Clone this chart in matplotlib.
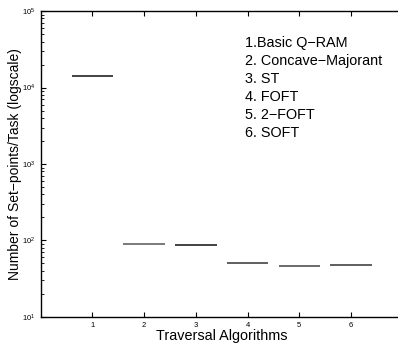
import matplotlib
matplotlib.use("Agg")
import matplotlib.pyplot as plt
from matplotlib.ticker import LogLocator, NullFormatter

plt.rcParams["font.family"] = ["Liberation Sans", "DejaVu Sans"]
plt.rcParams["mathtext.fontset"] = "custom"
plt.rcParams["mathtext.rm"] = "Liberation Sans"

algorithms = [1, 2, 3, 4, 5, 6]
setpoints = [14000, 91, 88, 51, 47, 48]
line_colors = ["#111111", "#555555", "#111111", "#333333", "#444444", "#333333"]
legend_lines = ["1.Basic Q\u2212RAM", "2. Concave\u2212Majorant", "3. ST",
                "4. FOFT", "5. 2\u2212FOFT", "6. SOFT"]

fig = plt.figure(figsize=(3.98, 3.46), dpi=100)
ax = fig.add_axes([0.102, 0.084, 0.91, 0.884])

for x, v, c in zip(algorithms, setpoints, line_colors):
    ax.hlines(v, x - 0.4, x + 0.4, colors=c, linewidth=1.1)

ax.set_yscale("log")
ax.set_ylim(10, 1e5)
ax.set_xlim(0, 7)
ax.set_xticks(algorithms)
ax.yaxis.set_minor_locator(LogLocator(base=10, subs=range(2, 10)))
ax.yaxis.set_minor_formatter(NullFormatter())

ax.tick_params(which="both", direction="in", top=True, right=False,
               labelsize=5.5, pad=4)
ax.tick_params(which="major", length=3.5)
ax.tick_params(which="minor", length=2)
for sp in ax.spines.values():
    sp.set_linewidth(1.0)
ax.spines["right"].set_visible(False)

ax.set_xlabel("Traversal Algorithms", fontsize=10.4, labelpad=0)
ax.set_ylabel("Number of Set\u2212points/Task (logscale)", fontsize=10, labelpad=0)

ax.text(0.565, 0.917, "\n".join(legend_lines), transform=ax.transAxes,
        fontsize=10.4, va="top", ha="left", linespacing=1.35)

fig.savefig("out.png", dpi=100)
